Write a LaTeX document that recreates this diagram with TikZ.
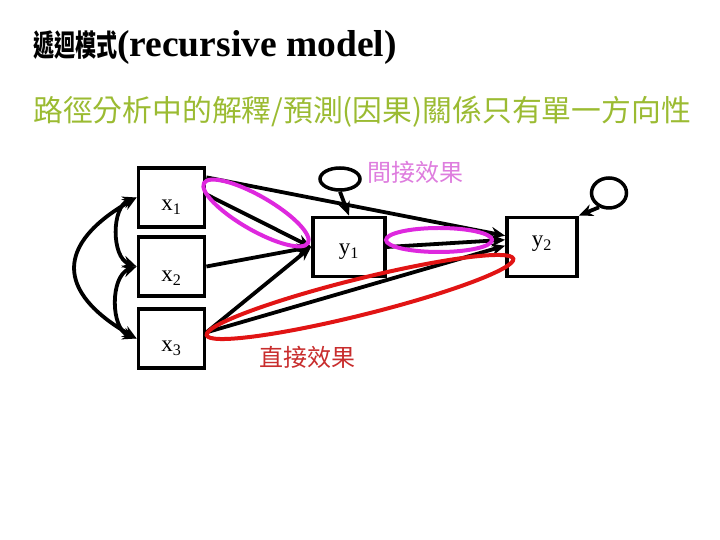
\documentclass[tikz,border=0pt]{standalone}
\usepackage{fontspec}
\setmainfont{Liberation Serif}
\newfontfamily\cjk{Noto Sans CJK TC}
\usetikzlibrary{arrows.meta,shapes.geometric}

\definecolor{subgreen}{RGB}{155,187,50}
\definecolor{indmag}{RGB}{222,40,222}
\definecolor{indtext}{RGB}{222,125,222}
\definecolor{dirred}{RGB}{225,20,20}
\definecolor{dirtext}{RGB}{200,45,45}

% label set lower or higher in its box
\newcommand{\boxlbl}[2]{\raisebox{#1}[0pt][0pt]{#2}}

\begin{document}
\begin{tikzpicture}[x=1pt,y=1pt,
    var/.style={draw,line width=3.8pt,minimum width=66pt,minimum height=59pt,inner sep=0pt,
      font=\fontsize{23}{23}\selectfont},
    err/.style={draw,ellipse,line width=3.5pt,inner sep=0pt},
    arr/.style={-{Stealth[length=14pt,width=12pt]},line width=3.8pt},
    cov/.style={{Stealth[length=14pt,width=12pt]}-{Stealth[length=14pt,width=12pt]},line width=3.8pt},
    ring/.style={line width=4pt}]
    \useasboundingbox (0,0) rectangle (720,540);

    % Title and subtitle
    \node[anchor=west,inner sep=0pt] (title) at (33,493)
        {\bfseries\cjk\fontsize{30}{30}\selectfont\scalebox{0.7}[1]{遞迴模式}\rmfamily\fontsize{37.5}{38}\selectfont(recursive model)};
    \node[anchor=west,inner sep=0pt,text=subgreen] (subtitle) at (33,428)
        {\cjk\fontsize{29.8}{30}\selectfont 路徑分析中的解釋/預測(因果)關係只有單一方向性};

    % Variables
    \node[var] (x1) at (171.5,342.5) {\boxlbl{-13pt}{x\textsubscript{1}}};
    \node[var] (x2) at (171.5,273.5) {\boxlbl{-15pt}{x\textsubscript{2}}};
    \node[var] (x3) at (171.5,201.5) {\boxlbl{-13pt}{x\textsubscript{3}}};
    \node[var,minimum width=72pt] (y1) at (349,293) {\boxlbl{-8pt}{y\textsubscript{1}}};
    \node[var,minimum width=70pt] (y2) at (542,293) {\boxlbl{0pt}{y\textsubscript{2}}};

    % Error terms
    \node[err,minimum width=40pt,minimum height=22pt] (e1) at (340,361) {};
    \node[err,minimum width=35pt,minimum height=30pt] (e2) at (609,347) {};

    % Correlations among the x's
    \draw[cov] (x1.west) to[out=200,in=160] (x2.west);
    \draw[cov] (x2.west) to[out=200,in=160] (x3.west);
    \draw[cov] (x1.west) to[out=210,in=150,looseness=1.7] (x3.west);

    % Paths
    \draw[arr] (x1.30) -- (y2.163);
    \draw[arr] (x1.5) -- (y1.west);
    \draw[arr] (x2.east) -- (y1.west);
    \draw[arr] (x3.10) -- (y1.west);
    \draw[arr] (x3.10) -- (y2.178);
    \draw[arr] (y1.east) -- (y2.169);
    \draw[arr] (e1.south) -- (y1.north);
    \draw[arr] (e2.235) -- (y2.north east);

    % Indirect effect marks
    \draw[ring,indmag,rotate around={-30:(256,327)}] (256,327) ellipse[x radius=60pt,y radius=17pt];
    \draw[ring,indmag] (439,300) ellipse[x radius=53pt,y radius=12pt];
    \node[text=indtext,font=\cjk\fontsize{24}{24}\selectfont] (indirect) at (415,368) {間接效果};

    % Direct effect mark
    \draw[ring,dirred,rotate around={14:(360,243)}] (360,243) ellipse[x radius=158pt,y radius=18pt];
    \node[text=dirtext,font=\cjk\fontsize{24}{24}\selectfont] (direct) at (307,183) {直接效果};
\end{tikzpicture}
\end{document}
